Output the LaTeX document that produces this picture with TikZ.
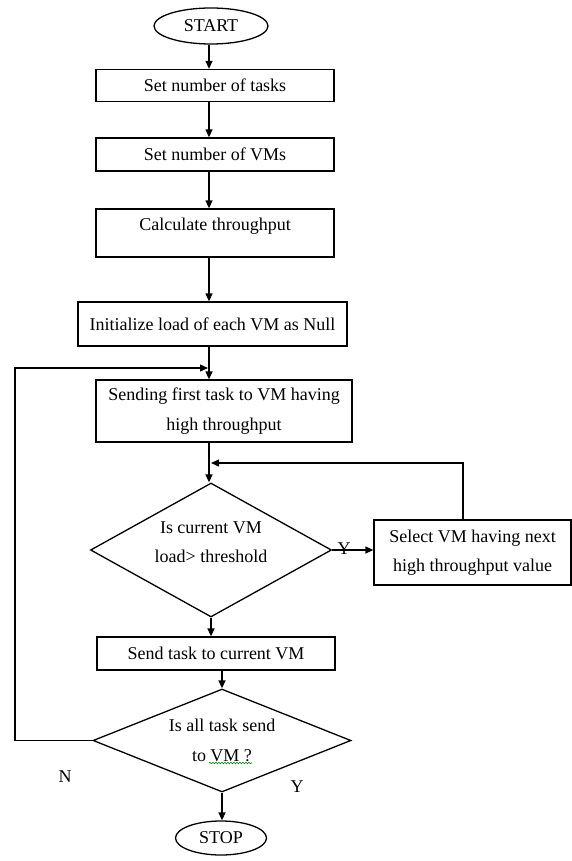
\documentclass[tikz,border=0pt]{standalone}
\usepackage{fontspec}
\setmainfont{Liberation Serif}
\usetikzlibrary{shapes.geometric,arrows.meta,decorations.pathmorphing}
\begin{document}
\begin{tikzpicture}[x=1pt,y=-1pt,
  every node/.style={font=\fontsize{18}{29.5}\selectfont, inner sep=0pt},
  box/.style={draw, line width=1.3pt, rectangle, align=center},
  term/.style={draw, line width=1.3pt, ellipse},
  dec/.style={draw, line width=1.3pt, diamond, align=center},
  conn/.style={line width=1.3pt},
  arr/.style={conn, -{Triangle[length=8pt,width=7pt]}}]
\useasboundingbox (0,0) rectangle (572,861);
\fill[white] (0,0) rectangle (572,861);

\node[term, minimum width=114, minimum height=36] (start) at (211,26) {START};
\node[box, minimum width=238, minimum height=32] (b1) at (215,85.5) {Set number of tasks};
\node[box, minimum width=238, minimum height=33] (b2) at (215,154.5) {Set number of VMs};
\node[box, minimum width=238, minimum height=48, text depth=16.5pt] (b3) at (215,233) {Calculate throughput};
\node[box, minimum width=269, minimum height=44] (b4) at (212.5,324) {Initialize load of each VM as Null};
\node[box, minimum width=256, minimum height=62] (b5) at (224,411) {Sending first task to VM having\\high throughput};
\node[dec, aspect=1.8, minimum width=241, minimum height=134, text depth=16pt] (d1) at (211,550) {Is current VM\\load> threshold};
\node[box, minimum width=197, minimum height=65] (b6) at (472.5,552.5) {Select VM having next\\high throughput value};
\node[box, minimum width=238, minimum height=33] (b7) at (216,653.5) {Send task to current VM};
\node[dec, aspect=2.5, minimum width=258, minimum height=103] (d2) at (222,740.5) {Is all task send\\to VM ?};
\node[term, minimum width=91, minimum height=34] (stop) at (221,838) {STOP};
\node (ylab1) at (344,549) {Y};
\node (nlab) at (65,777) {N};
\node (ylab2) at (297,787) {Y};

\coordinate (sp) at (209,0);
\coordinate (j1) at (208,368);
\coordinate (j2) at (211,463);
\coordinate (lx) at (15,0);
\coordinate (rx) at (463,0);

\draw[arr] (start.south -| sp) -- (b1.north -| sp);
\draw[arr] (b1.south -| sp) -- (b2.north -| sp);
\draw[arr] (b2.south -| sp) -- (b3.north -| sp);
\draw[arr] (b3.south -| sp) -- (b4.north -| sp);
\draw[arr] (b4.south -| sp) -- (b5.north -| sp);
\draw[arr] (b5.south -| sp) -- (d1.north -| sp);
\draw[arr] (d1.south) -- (d1.south |- b7.north);
\draw[arr] (b7.south -| d2.north) -- (d2.north);
\draw[arr] (d2.south) -- (d2.south |- stop.north);
\draw[arr] (d1.east) -- (d1.east -| b6.west);
\draw[arr] (b6.north -| rx) -- (j2 -| rx) -- (j2);
\draw[arr] (d2.west) -- (d2.west -| lx) -- (j1 -| lx) -- (j1);

\draw[green!55!black, line width=0.6pt, decorate,
  decoration={snake, amplitude=0.8pt, segment length=3pt}] (209,763) -- (252,763);
\end{tikzpicture}
\end{document}
